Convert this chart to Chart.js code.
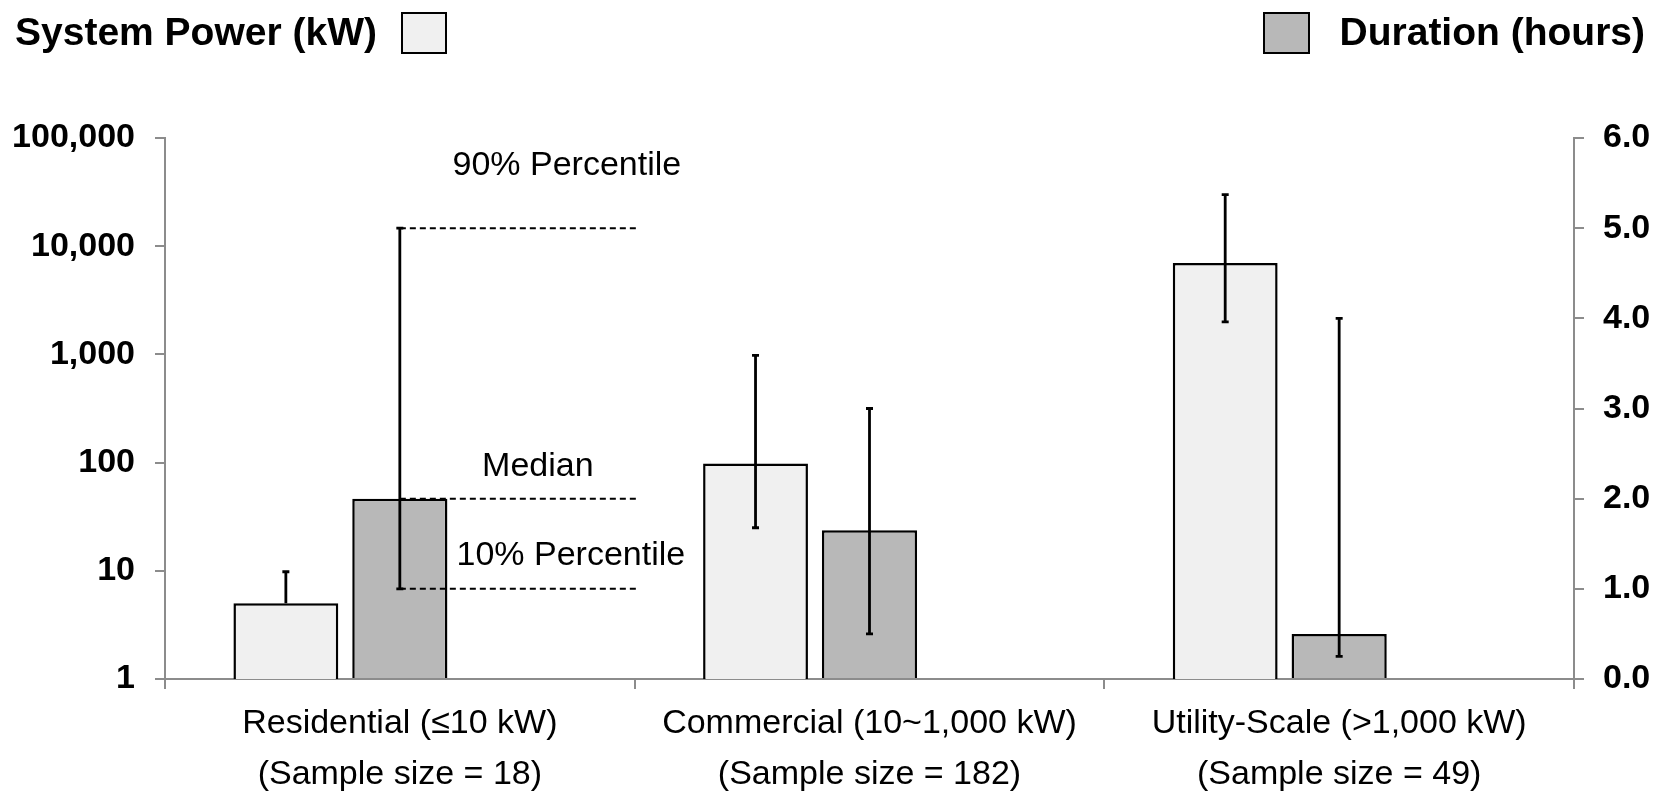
<!DOCTYPE html>
<html>
<head>
<meta charset="utf-8">
<script src="https://cdn.jsdelivr.net/npm/chart.js@4.4.1/dist/chart.umd.min.js"></script>
<style>
  html, body { margin: 0; padding: 0; background: #fff; }
  #wrap { width: 1655px; height: 796px; position: relative; }
</style>
</head>
<body>
<div id="wrap"><canvas id="storage"></canvas></div>
<script>
// categories (two-line labels)
const categories = [
  ["Residential (\u226410 kW)", "(Sample size = 18)"],
  ["Commercial (10~1,000 kW)", "(Sample size = 182)"],
  ["Utility-Scale (>1,000 kW)", "(Sample size = 49)"],
];

// system power (kW), log axis
const powerMedian = [5, 98, 7000];
const powerP10 = [null, 25, 2000]; // residential lower whisker not shown
const powerP90 = [9.8, 980, 30000];

// duration (hours), right axis
const durationMedian = [2.0, 1.65, 0.5];
const durationP10 = [1.0, 0.5, 0.25];
const durationP90 = [5.0, 3.0, 4.0];

// tick labels
const powerTicks = [1, 10, 100, 1000, 10000, 100000];
const durationTicks = [0, 1, 2, 3, 4, 5, 6];

const FONT = "'Liberation Sans', Arial, sans-serif";
const AXIS_GREY = "#8c8c8c";

// error bars for both series
const errorBars = {
  id: "errorBars",
  afterDatasetsDraw(chart) {
    const c = chart.ctx;
    const sets = [
      { meta: chart.getDatasetMeta(0), scale: chart.scales.y, mid: powerMedian, lo: powerP10, hi: powerP90 },
      { meta: chart.getDatasetMeta(1), scale: chart.scales.y2, mid: durationMedian, lo: durationP10, hi: durationP90 },
    ];
    c.save();
    c.strokeStyle = "#000";
    c.lineWidth = 2.8;
    sets.forEach((s) => {
      s.meta.data.forEach((bar, i) => {
        const yHi = s.scale.getPixelForValue(s.hi[i]);
        const hasLo = s.lo[i] !== null;
        const yLo = s.scale.getPixelForValue(hasLo ? s.lo[i] : s.mid[i]);
        c.beginPath();
        c.moveTo(bar.x, yHi);
        c.lineTo(bar.x, yLo);
        c.moveTo(bar.x - 3.5, yHi);
        c.lineTo(bar.x + 3.5, yHi);
        if (hasLo) {
          c.moveTo(bar.x - 3.5, yLo);
          c.lineTo(bar.x + 3.5, yLo);
        }
        c.stroke();
      });
    });
    c.restore();
  },
};

// percentile guide lines on the residential duration bar
const guides = {
  id: "guides",
  afterDatasetsDraw(chart) {
    const c = chart.ctx;
    const x = chart.scales.x;
    const y2 = chart.scales.y2;
    const bar = chart.getDatasetMeta(1).data[0];
    const xEnd = (x.getPixelForValue(0) + x.getPixelForValue(1)) / 2;
    const rows = [
      { v: durationP90[0], text: "90% Percentile", dx: 167, dy: -63 },
      { v: durationMedian[0], text: "Median", dx: 138, dy: -32 },
      { v: durationP10[0], text: "10% Percentile", dx: 171, dy: -33 },
    ];
    c.save();
    c.strokeStyle = "#000";
    c.lineWidth = 2;
    c.setLineDash([6, 4]);
    c.font = "34px " + FONT;
    c.fillStyle = "#000";
    c.textAlign = "center";
    c.textBaseline = "middle";
    rows.forEach((r) => {
      const py = y2.getPixelForValue(r.v);
      c.beginPath();
      c.moveTo(bar.x, py);
      c.lineTo(xEnd + 3, py);
      c.stroke();
      c.fillText(r.text, bar.x + r.dx, py + r.dy);
    });
    c.restore();
  },
};

// top legend: left and right series keys
const topLegend = {
  id: "topLegend",
  afterDraw(chart) {
    const c = chart.ctx;
    c.save();
    c.font = "bold 39px " + FONT;
    c.fillStyle = "#000";
    c.textBaseline = "middle";
    c.textAlign = "left";
    c.fillText("System Power (kW)", 15, 34);
    c.textAlign = "right";
    c.fillText("Duration (hours)", 1645, 34);
    c.lineWidth = 2;
    c.strokeStyle = "#000";
    c.fillStyle = "#f0f0f0";
    c.fillRect(402, 13, 44, 40);
    c.strokeRect(402, 13, 44, 40);
    c.fillStyle = "#b8b8b8";
    c.fillRect(1264, 13, 45, 40);
    c.strokeRect(1264, 13, 45, 40);
    c.restore();
  },
};

const ctx = document.getElementById("storage");
new Chart(ctx, {
  type: "bar",
  data: {
    labels: categories,
    datasets: [
      {
        label: "System Power (kW)",
        data: powerMedian,
        yAxisID: "y",
        backgroundColor: "#f0f0f0",
        borderColor: "#000",
        borderWidth: 2.5,
        barPercentage: 0.92,
      },
      {
        label: "Duration (hours)",
        data: durationMedian,
        yAxisID: "y2",
        backgroundColor: "#b8b8b8",
        borderColor: "#000",
        borderWidth: 2.5,
        barPercentage: 0.835,
      },
      {
        // empty slot so the bars sit left of centre
        label: "",
        data: [null, null, null],
        yAxisID: "y2",
      },
    ],
  },
  options: {
    responsive: true,
    maintainAspectRatio: false,
    animation: false,
    layout: { padding: { top: 138, left: 0, right: 0, bottom: 0 } },
    datasets: { bar: { categoryPercentage: 0.728 } },
    plugins: {
      legend: { display: false },
      tooltip: { enabled: false },
    },
    scales: {
      x: {
        grid: {
          offset: true,
          drawOnChartArea: false,
          color: AXIS_GREY,
          lineWidth: 2,
          tickLength: 10,
        },
        border: { color: AXIS_GREY, width: 2 },
        ticks: {
          color: "#000",
          padding: 9,
          maxRotation: 0,
          autoSkip: false,
          font: { family: FONT, size: 34, lineHeight: 1.5 },
        },
        afterFit(scale) {
          scale.height = 796 - 679;
        },
      },
      y: {
        type: "logarithmic",
        position: "left",
        min: 1,
        max: 100000,
        grid: {
          drawOnChartArea: false,
          color: AXIS_GREY,
          lineWidth: 2,
          tickLength: 10,
        },
        border: { color: AXIS_GREY, width: 2 },
        afterBuildTicks(scale) {
          scale.ticks = powerTicks.map((v) => ({ value: v, major: true }));
        },
        ticks: {
          color: "#000",
          padding: 20,
          font: { family: FONT, size: 34, weight: "bold" },
          callback: (v) => Number(v).toLocaleString("en-US"),
        },
        afterFit(scale) {
          scale.width = 165;
        },
      },
      y2: {
        type: "linear",
        position: "right",
        min: 0,
        max: 6,
        grid: {
          drawOnChartArea: false,
          color: AXIS_GREY,
          lineWidth: 2,
          tickLength: 10,
        },
        border: { color: AXIS_GREY, width: 2 },
        afterBuildTicks(scale) {
          scale.ticks = durationTicks.map((v) => ({ value: v }));
        },
        ticks: {
          color: "#000",
          padding: 19,
          font: { family: FONT, size: 34, weight: "bold" },
          callback: (v) => Number(v).toFixed(1),
        },
        afterFit(scale) {
          scale.width = 1655 - 1574;
        },
      },
    },
  },
  plugins: [errorBars, guides, topLegend],
});
</script>
</body>
</html>
